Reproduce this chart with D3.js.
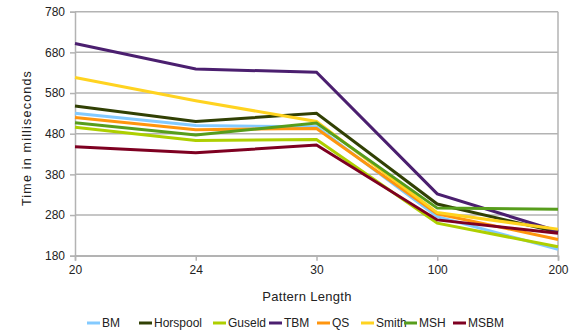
<!DOCTYPE html>
<html>
<head>
<meta charset="utf-8">
<script src="https://cdn.jsdelivr.net/npm/d3@7"></script>
<style>
  html, body { margin: 0; padding: 0; background: #fff; }
  svg { display: block; font-family: "Liberation Sans", Arial, sans-serif; }
</style>
</head>
<body>
<svg id="chart" width="575" height="331"></svg>
<script>
// Pattern lengths on the x axis
const patternLengths = ["20", "24", "30", "100", "200"];

// Running time (ms) for each algorithm
const seriesNames = ["BM", "Horspool", "Guseld", "TBM", "QS", "Smith", "MSH", "MSBM"];
const bmTimes       = [530, 500, 497, 276, 196];
const horspoolTimes = [548, 510, 530, 307, 238];
const guseldTimes   = [496, 463, 466, 260, 202];
const tbmTimes      = [702, 639, 631, 332, 240];
const qsTimes       = [520, 490, 493, 283, 220];
const smithTimes    = [618, 561, 510, 286, 245];
const mshTimes      = [507, 477, 506, 297, 294];
const msbmTimes     = [448, 433, 452, 268, 235];
const seriesColors  = ["#83caff", "#314004", "#aecf00", "#4b1f6f", "#ff950e", "#ffd320", "#579d1c", "#7e0021"];

const yTicks = [180, 280, 380, 480, 580, 680, 780];

const seriesValues = [bmTimes, horspoolTimes, guseldTimes, tbmTimes, qsTimes, smithTimes, mshTimes, msbmTimes];
const series = seriesNames.map((name, i) => ({ name, color: seriesColors[i], values: seriesValues[i] }));

const svg = d3.select("#chart");
const margin = { left: 75, right: 17, top: 11.7, bottom: 75.3 };
const W = 575, H = 331;
const textColor = "#222";
const font = "Liberation Sans, Arial, sans-serif";

const x = d3.scalePoint().domain(patternLengths).range([margin.left, W - margin.right]);
const y = d3.scaleLinear().domain([180, 780]).range([H - margin.bottom, margin.top]);

const gridColor = "#b3b3b3";

// horizontal gridlines
svg.append("g").selectAll("line").data(yTicks).join("line")
  .attr("x1", margin.left).attr("x2", W - margin.right)
  .attr("y1", d => y(d)).attr("y2", d => y(d))
  .attr("stroke", gridColor).attr("stroke-width", 1.5);

// right border
svg.append("line")
  .attr("x1", W - margin.right).attr("x2", W - margin.right)
  .attr("y1", y(780)).attr("y2", y(180))
  .attr("stroke", gridColor).attr("stroke-width", 1.5);

// y axis
const yAxis = svg.append("g")
  .attr("transform", `translate(${margin.left},0)`)
  .call(d3.axisLeft(y).tickValues(yTicks).tickSize(5).tickPadding(5));
yAxis.select(".domain").attr("stroke", gridColor).attr("stroke-width", 1.5);
yAxis.selectAll(".tick line").attr("stroke", gridColor).attr("stroke-width", 1.5);
yAxis.selectAll("text").attr("font-size", 12).attr("fill", textColor).attr("font-family", font);

// x axis
const xAxis = svg.append("g")
  .attr("transform", `translate(0,${y(180)})`)
  .call(d3.axisBottom(x).tickSize(5).tickPadding(5));
xAxis.select(".domain").attr("stroke", gridColor).attr("stroke-width", 1.5);
xAxis.selectAll(".tick line").attr("stroke", gridColor).attr("stroke-width", 1.5);
xAxis.selectAll("text").attr("font-size", 12).attr("fill", textColor).attr("font-family", font);

// series lines
const line = d3.line().x((d, i) => x(patternLengths[i])).y(d => y(d));
svg.append("g").selectAll("path").data(series).join("path")
  .attr("d", d => line(d.values))
  .attr("fill", "none")
  .attr("stroke", d => d.color)
  .attr("stroke-width", 3)
  .attr("stroke-linejoin", "miter");

// axis titles
svg.append("text")
  .attr("x", 307)
  .attr("y", 300.5)
  .attr("text-anchor", "middle")
  .attr("font-size", 13).attr("fill", textColor)
  .attr("letter-spacing", 0.3)
  .text("Pattern Length");

svg.append("text")
  .attr("transform", "translate(31,138) rotate(-90)")
  .attr("text-anchor", "middle")
  .attr("font-size", 12.5).attr("fill", textColor)
  .attr("letter-spacing", 1.2)
  .text("Time in milliseconds");

// legend
const legendX = [87, 139, 213, 269, 317, 361, 404, 453];
const legend = svg.append("g").selectAll("g").data(series).join("g")
  .attr("transform", (d, i) => `translate(${legendX[i]},323)`);
legend.append("line")
  .attr("x1", 0).attr("x2", 13).attr("y1", 0).attr("y2", 0)
  .attr("stroke", d => d.color).attr("stroke-width", 3);
legend.append("text")
  .attr("x", 15).attr("y", 4.3)
  .attr("font-size", 12).attr("fill", textColor)
  .text(d => d.name);
</script>
</body>
</html>
